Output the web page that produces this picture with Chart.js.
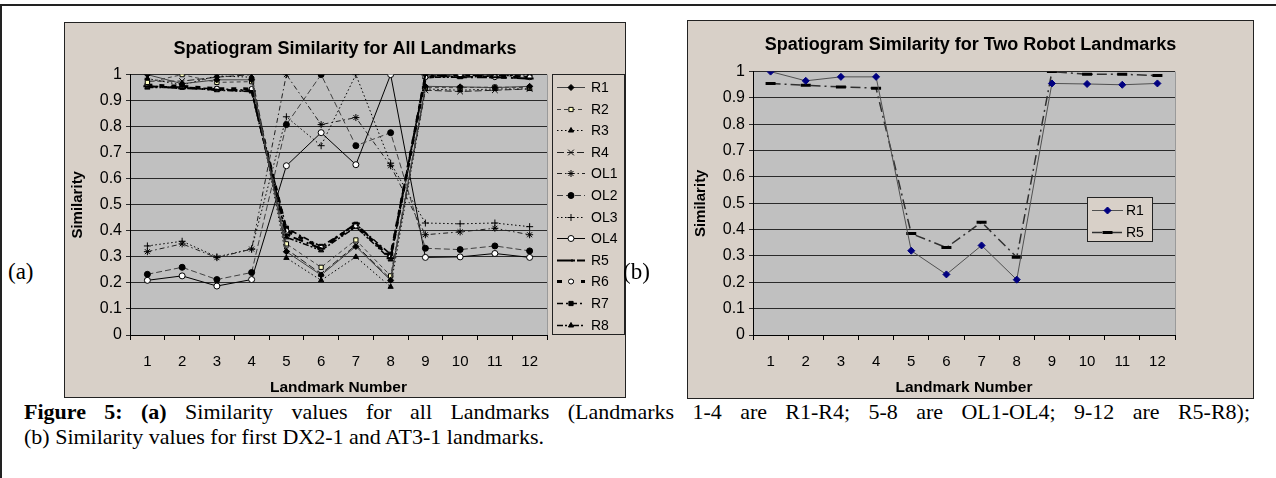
<!DOCTYPE html>
<html>
<head>
<meta charset="utf-8">
<script src="https://cdn.jsdelivr.net/npm/chart.js@4.4.1/dist/chart.umd.min.js"></script>
<style>
  html, body { margin: 0; padding: 0; background: #fff; }
  body { width: 1276px; height: 478px; position: relative; overflow: hidden; font-family: "Liberation Sans", Arial, sans-serif; }
  .rule-top { position: absolute; left: 0; top: 4px; width: 1276px; height: 2px; background: #222; }
  .rule-left { position: absolute; left: 0; top: 4px; width: 2px; height: 474px; background: #222; }
  .panel { position: absolute; background: #d8d0c8; border: 1px solid #222; box-sizing: border-box; }
  .panel canvas { position: absolute; left: 0; top: 0; }
  .tag { position: absolute; font-family: "Liberation Serif", "Times New Roman", serif; font-size: 23px; line-height: 24px; }
  .caption { position: absolute; left: 24px; top: 399px; width: 1226px; font-family: "Liberation Serif", "Times New Roman", serif; font-size: 22px; line-height: 25px; white-space: nowrap; }
  .caption .just { text-align: justify; text-align-last: justify; white-space: normal; }
</style>
</head>
<body>
<div class="rule-top"></div>
<div class="rule-left"></div>

<div class="panel" style="left:64px;top:22px;width:562px;height:376px;">
  <canvas id="chart-all" width="560" height="374"></canvas>
</div>
<div class="panel" style="left:687px;top:20px;width:567px;height:379px;">
  <canvas id="chart-two" width="565" height="377"></canvas>
</div>

<div class="tag" style="left:8px;top:260px;">(a)</div>
<div class="tag" style="left:623px;top:260px;">(b)</div>

<div class="caption">
  <div class="just"><b>Figure 5: (a)</b> Similarity values for all Landmarks (Landmarks 1-4 are R1-R4; 5-8 are OL1-OL4; 9-12 are R5-R8);</div>
  <div>(b) Similarity values for first DX2-1 and AT3-1 landmarks.</div>
</div>

<script>
const landmarkLabels = ['1', '2', '3', '4', '5', '6', '7', '8', '9', '10', '11', '12'];
const yTicks = [0, 0.1, 0.2, 0.3, 0.4, 0.5, 0.6, 0.7, 0.8, 0.9, 1];

// similarity of each landmark against landmarks 1..12
const simR1 = [1.00, 0.965, 0.98, 0.98, 0.32, 0.23, 0.34, 0.21, 0.955, 0.953, 0.95, 0.955];
const simR2 = [0.97, 1.00, 0.97, 0.973, 0.35, 0.26, 0.365, 0.227, 0.95, 0.95, 0.952, 0.95];
const simR3 = [0.985, 0.96, 0.995, 0.99, 0.296, 0.21, 0.30, 0.185, 0.945, 0.94, 0.945, 0.945];
const simR4 = [0.975, 0.975, 0.99, 1.00, 0.33, 0.235, 0.345, 0.215, 0.94, 0.935, 0.94, 0.945];
const simOL1 = [0.32, 0.35, 0.297, 0.33, 1.00, 0.808, 0.835, 0.65, 0.385, 0.396, 0.41, 0.385];
const simOL2 = [0.233, 0.26, 0.213, 0.24, 0.808, 1.00, 0.727, 0.777, 0.333, 0.328, 0.342, 0.323];
const simOL3 = [0.342, 0.36, 0.30, 0.33, 0.838, 0.727, 1.00, 0.66, 0.43, 0.427, 0.43, 0.416];
const simOL4 = [0.21, 0.227, 0.188, 0.213, 0.65, 0.777, 0.654, 1.00, 0.298, 0.30, 0.313, 0.298];
const simR5 = [0.955, 0.948, 0.942, 0.937, 0.385, 0.332, 0.428, 0.295, 1.00, 0.99, 0.99, 0.985];
const simR6 = [0.96, 0.955, 0.946, 0.945, 0.40, 0.335, 0.42, 0.30, 0.99, 1.00, 0.99, 0.99];
const simR7 = [0.955, 0.952, 0.945, 0.94, 0.41, 0.34, 0.425, 0.31, 0.995, 0.995, 1.00, 0.99];
const simR8 = [0.95, 0.95, 0.94, 0.935, 0.375, 0.325, 0.415, 0.29, 0.99, 0.99, 0.995, 1.00];

Chart.defaults.font.family = '"Liberation Sans", Arial, sans-serif';
Chart.defaults.color = '#000';

function series(label, data, style) {
  return Object.assign({
    label,
    data,
    fill: false,
    tension: 0,
    borderColor: '#000',
    borderWidth: 1,
    borderDash: [],
    pointStyle: 'circle',
    pointRadius: 3,
    pointBorderWidth: 1,
    pointBackgroundColor: '#000',
    pointBorderColor: '#000'
  }, style);
}

const plotBg = {
  id: 'plotBg',
  beforeDraw(chart) {
    const { ctx, chartArea: a } = chart;
    ctx.save();
    ctx.fillStyle = '#c0c0c0';
    ctx.fillRect(a.left, a.top, a.right - a.left, a.bottom - a.top);
    ctx.strokeStyle = '#9a9a9a';
    ctx.lineWidth = 1;
    ctx.beginPath();
    ctx.moveTo(Math.round(a.right) + 0.5, a.top);
    ctx.lineTo(Math.round(a.right) + 0.5, a.bottom);
    ctx.stroke();
    ctx.restore();
  }
};

// boxed legend with line sample + marker, like the spreadsheet one
const sideLegend = {
  id: 'sideLegend',
  afterDraw(chart, args, o) {
    const { ctx } = chart;
    ctx.save();
    ctx.fillStyle = '#d8d0c8';
    ctx.fillRect(o.x, o.y, o.w, o.h);
    ctx.strokeStyle = '#222';
    ctx.lineWidth = 1;
    ctx.strokeRect(o.x + 0.5, o.y + 0.5, o.w - 1, o.h - 1);
    ctx.font = '14px "Liberation Sans", Arial, sans-serif';
    ctx.textBaseline = 'middle';
    chart.data.datasets.forEach((ds, i) => {
      const cy = Math.round(o.firstY + i * o.gap) + 0.5;
      ctx.strokeStyle = ds.borderColor;
      ctx.lineWidth = ds.borderWidth;
      ctx.setLineDash(ds.borderDash || []);
      ctx.beginPath();
      ctx.moveTo(o.lineX0, cy);
      ctx.lineTo(o.lineX1, cy);
      ctx.stroke();
      ctx.setLineDash([]);
      if (Chart.helpers && Chart.helpers.drawPoint) {
        ctx.fillStyle = ds.pointBackgroundColor;
        ctx.strokeStyle = ds.pointBorderColor;
        ctx.lineWidth = ds.pointBorderWidth;
        Chart.helpers.drawPoint(ctx, {
          pointStyle: ds.pointStyle,
          radius: ds.pointRadius,
          borderWidth: ds.pointBorderWidth,
          rotation: 0
        }, (o.lineX0 + o.lineX1) / 2, cy);
      }
      ctx.fillStyle = '#000';
      ctx.fillText(ds.label, o.textX, cy + 1);
    });
    ctx.restore();
  }
};

function buildChart(canvasId, cfg) {
  return new Chart(document.getElementById(canvasId), {
    type: 'line',
    data: { labels: landmarkLabels, datasets: cfg.datasets },
    options: {
      responsive: false,
      animation: false,
      devicePixelRatio: 1,
      layout: { padding: 0 },
      plugins: {
        legend: { display: false },
        tooltip: { enabled: false },
        title: {
          display: true,
          text: cfg.title,
          color: '#000',
          font: { size: 18, weight: 'bold' },
          padding: cfg.titlePad
        },
        sideLegend: cfg.legend
      },
      scales: {
        x: {
          offset: true,
          grid: { offset: true, drawOnChartArea: false, drawTicks: true, tickLength: 5, color: '#000' },
          border: { color: '#000' },
          ticks: { color: '#000', font: { size: 15 }, padding: 12.5, maxRotation: 0, autoSkip: false },
          title: {
            display: true,
            text: 'Landmark Number',
            color: '#000',
            font: { size: 15.5, weight: 'bold' },
            padding: { top: 0, bottom: cfg.xTitleBottom }
          },
          afterFit(scale) { scale.height = cfg.xAxisHeight; }
        },
        y: {
          min: 0,
          max: 1,
          afterBuildTicks(scale) { scale.ticks = yTicks.map((v) => ({ value: v })); },
          grid: { color: '#2a2a2a', tickLength: 4 },
          border: { color: '#000' },
          ticks: { color: '#000', font: { size: 16 }, padding: 4, callback: (v) => String(Math.round(v * 10) / 10) },
          title: {
            display: true,
            text: 'Similarity',
            color: '#000',
            font: { size: 15, weight: 'bold' },
            padding: { top: 4, bottom: 0 }
          },
          afterFit(scale) { scale.width = cfg.yAxisWidth; }
        },
        // empty right-hand strip that holds the boxed legend
        legendStrip: {
          type: 'linear',
          position: 'right',
          min: 0,
          max: 1,
          grid: { display: false },
          border: { display: false },
          ticks: { display: false },
          afterFit(scale) { scale.width = cfg.rightStrip; }
        }
      }
    },
    plugins: [plotBg, sideLegend]
  });
}

buildChart('chart-all', {
  title: 'Spatiogram Similarity for All Landmarks',
  titlePad: { top: 15, bottom: 15 },
  rightStrip: 78,
  yAxisWidth: 65,
  xAxisHeight: 62,
  xTitleBottom: 0,
  legend: { x: 487, y: 51, w: 73, h: 261, firstY: 64, gap: 21.6, lineX0: 492, lineX1: 520, textX: 526 },
  datasets: [
    series('R1', simR1, { borderColor: '#404040', pointStyle: 'rectRot', pointRadius: 3 }),
    series('R2', simR2, { borderColor: '#404040', borderDash: [4, 3], pointStyle: 'rect', pointRadius: 3, pointBackgroundColor: '#ffffc0' }),
    series('R3', simR3, { borderDash: [1.5, 2.5], pointStyle: 'triangle', pointRadius: 3 }),
    series('R4', simR4, { borderColor: '#202020', borderDash: [7, 3], pointStyle: 'crossRot', pointRadius: 4 }),
    series('OL1', simOL1, { borderColor: '#202020', borderDash: [5, 3, 1.5, 3], pointStyle: 'star', pointRadius: 3.5 }),
    series('OL2', simOL2, { borderColor: '#404040', borderDash: [6, 3], pointStyle: 'circle', pointRadius: 3 }),
    series('OL3', simOL3, { borderDash: [1.5, 2.5], pointStyle: 'cross', pointRadius: 3.5 }),
    series('OL4', simOL4, { pointStyle: 'circle', pointRadius: 3, pointBackgroundColor: '#fff' }),
    series('R5', simR5, { borderWidth: 2, borderDash: [10, 4, 2, 4], pointStyle: 'line', pointRadius: 4, pointBorderWidth: 2 }),
    series('R6', simR6, { borderWidth: 3, borderDash: [5, 7], pointStyle: 'circle', pointRadius: 2.5, pointBackgroundColor: '#fff' }),
    series('R7', simR7, { borderWidth: 1.5, borderDash: [6, 3, 2, 3], pointStyle: 'rect', pointRadius: 3 }),
    series('R8', simR8, { borderWidth: 1.5, borderDash: [6, 2, 2, 2, 2, 2], pointStyle: 'triangle', pointRadius: 3 })
  ]
});

buildChart('chart-two', {
  title: 'Spatiogram Similarity for Two Robot Landmarks',
  titlePad: { top: 13, bottom: 16 },
  rightStrip: 78,
  yAxisWidth: 65,
  xAxisHeight: 63,
  xTitleBottom: 1,
  legend: { x: 399, y: 176, w: 66, h: 45, firstY: 189, gap: 22, lineX0: 404, lineX1: 435, textX: 438 },
  datasets: [
    series('R1', simR1, { borderColor: '#505050', pointStyle: 'rectRot', pointRadius: 3.5, pointBackgroundColor: '#000080', pointBorderColor: '#000080' }),
    series('R5', simR5, { borderColor: '#303030', borderWidth: 1.5, borderDash: [10, 4, 2, 4], pointStyle: 'line', pointRadius: 5, pointBorderWidth: 3 })
  ]
});
</script>
</body>
</html>
